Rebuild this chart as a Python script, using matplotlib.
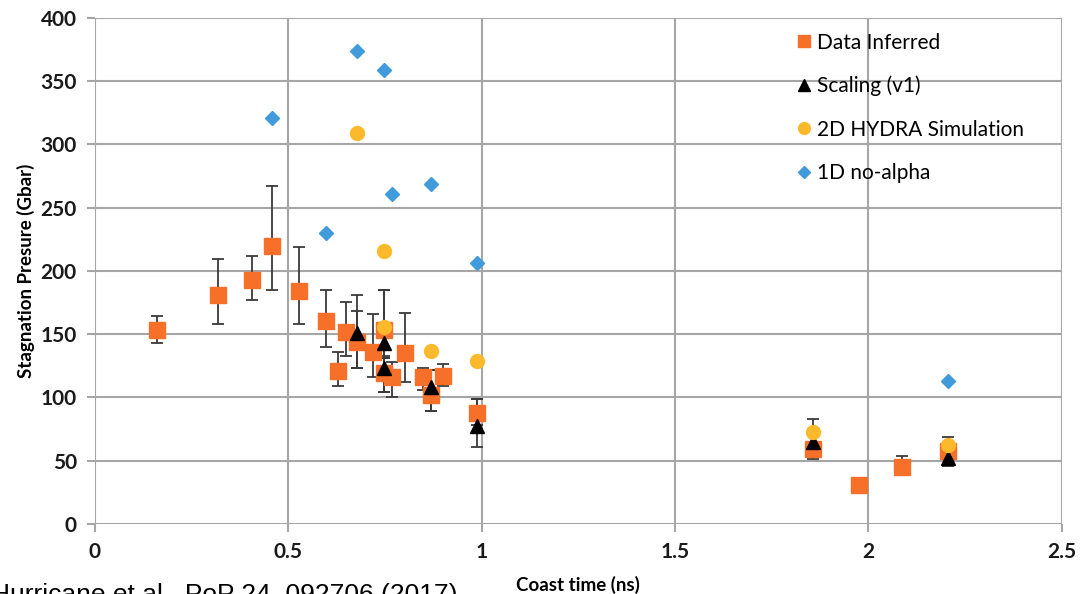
import matplotlib
matplotlib.use("Agg")
import matplotlib.pyplot as plt
import numpy as np

# Data Inferred (orange squares) with error bars
data_x = [0.16, 0.318, 0.406, 0.459, 0.527, 0.599, 0.649, 0.629, 0.679, 0.718, 0.749, 0.749,
          0.768, 0.802, 0.849, 0.869, 0.899, 0.987, 1.856, 1.976, 2.087, 2.206]
data_y = [153, 181, 193, 220, 184, 160, 152, 121, 144, 136, 153, 119,
          116, 135, 116, 102, 117, 88, 59, 31, 45, 58]
data_lo = [10, 23, 16, 35, 26, 20, 19, 12, 21, 20, 20, 15,
           16, 23, 10, 13, 8, 10, 8, 0, 6, 12]
data_hi = [11, 28, 19, 47, 35, 25, 23, 15, 24, 30, 32, 12,
           12, 32, 7, 20, 9, 11, 24, 0, 9, 11]

# Scaling (v1)
scal_x = [0.679, 0.749, 0.749, 0.869, 0.987, 1.857, 2.206]
scal_y = [151, 143, 123, 108, 77, 65, 52]
scal_lo = [28, 20, 19, 19, 16, 8, 5]
scal_hi = [30, 42, 8, 14, 22, 10, 6]

# 2D HYDRA Simulation
hydra_x = [0.679, 0.748, 0.749, 0.869, 0.987, 1.857, 2.206]
hydra_y = [309, 216, 156, 137, 129, 73, 62]

# 1D no-alpha
noalpha_x = [0.458, 0.599, 0.679, 0.748, 0.769, 0.869, 0.989, 2.206]
noalpha_y = [321, 230, 374, 359, 261, 269, 206, 113]

x_ticks = [0, 0.5, 1, 1.5, 2, 2.5]
x_labels = ["0", "0.5", "1", "1.5", "2", "2.5"]
y_ticks = [0, 50, 100, 150, 200, 250, 300, 350, 400]

plt.rcParams['font.family'] = ['Lato', 'DejaVu Sans']

fig = plt.figure(figsize=(10.9, 5.94), dpi=100)
ax = fig.add_axes([0.087, 0.118, 0.887, 0.852])

grid_col = "#a6a6a6"
err_col = "#3a3a3a"

ax.errorbar(data_x, data_y, yerr=[data_lo, data_hi], fmt="none", ecolor=err_col,
            elinewidth=1.3, capsize=4, capthick=1.3, zorder=2)
ax.errorbar(scal_x, scal_y, yerr=[scal_lo, scal_hi], fmt="none", ecolor=err_col,
            elinewidth=1.3, capsize=4, capthick=1.3, zorder=2)
ax.plot(data_x, data_y, ls="none", marker="s", ms=11, color="#f6702a", mec="#f6702a",
        label="Data Inferred", zorder=3)
ax.plot(scal_x, scal_y, ls="none", marker="^", ms=10, color="black",
        label="Scaling (v1)", zorder=4)
ax.plot(hydra_x, hydra_y, ls="none", marker="o", ms=10, color="#fdb92c", mec="#fdb92c",
        label="2D HYDRA Simulation", zorder=5)
ax.plot(noalpha_x, noalpha_y, ls="none", marker="D", ms=7.5, color="#3f9bda", mec="#3f9bda",
        label="1D no-alpha", zorder=6)

ax.set_xlim(0, 2.5)
ax.set_ylim(0, 400)
ax.set_xticks(x_ticks)
ax.set_xticklabels(x_labels)
ax.set_yticks(y_ticks)
ax.grid(True, color=grid_col, lw=1.5)
ax.set_axisbelow(True)
for s in ax.spines.values():
    s.set_visible(False)
ax.tick_params(direction="out", length=6, width=1.5, color=grid_col, labelsize=15, pad=7)
for lab in ax.get_xticklabels() + ax.get_yticklabels():
    lab.set_fontweight("bold")
    lab.set_color("#1a1a1a")

ax.set_ylabel("Stagnation Presure (Gbar)", fontsize=13.5, fontweight="bold", labelpad=4)
ax.set_xlabel("Coast time (ns)", fontsize=13.5, fontweight="bold", labelpad=10)

leg = ax.legend(loc="upper right", bbox_to_anchor=(0.98, 1.008), frameon=False,
                fontsize=15, handlelength=0.6, handletextpad=0.3, labelspacing=1.12,
                markerscale=0.85)

fig.text(-0.008, 0.019, "Hurricane et al., PoP 24, 092706 (2017)", fontsize=19,
         family="Liberation Sans", va="top", ha="left")

fig.savefig("out.png", dpi=100)
